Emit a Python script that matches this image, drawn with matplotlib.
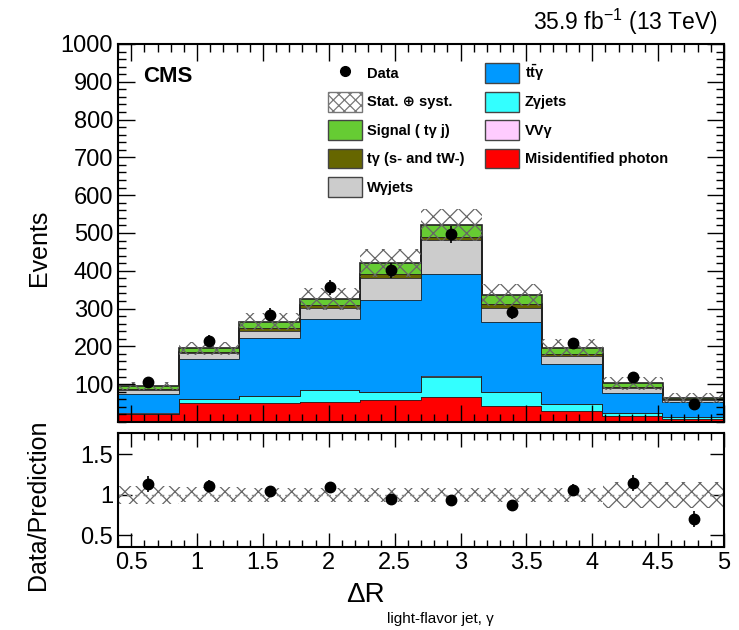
import matplotlib
matplotlib.use('Agg')
import matplotlib.pyplot as plt
import numpy as np
from matplotlib.patches import Patch
from matplotlib.lines import Line2D
from matplotlib.ticker import MultipleLocator, FixedLocator

plt.rcParams['font.family'] = ['Liberation Sans', 'DejaVu Sans']
plt.rcParams['mathtext.fontset'] = 'custom'
plt.rcParams['mathtext.rm'] = 'Liberation Sans'
plt.rcParams['mathtext.bf'] = 'Liberation Sans:bold'
plt.rcParams['mathtext.it'] = 'Liberation Sans:italic'
plt.rcParams['hatch.linewidth'] = 0.9

# bin edges (delta R)
edges = [0.40, 0.86, 1.32, 1.78, 2.24, 2.70, 3.16, 3.62, 4.08, 4.54, 5.00]
centers = [0.63, 1.09, 1.55, 2.01, 2.47, 2.93, 3.39, 3.85, 4.31, 4.77]

# stacked components, bottom to top
misid = [20, 51, 51, 54, 58, 65, 42, 29, 16, 7]
zgjets = [2, 9, 18, 31, 22, 55, 38, 18, 8, 6]
vvg = [0.5, 0.5, 0.5, 0.5, 0.5, 0.5, 0.5, 0.5, 0.5, 0.5]
ttg = [52, 105, 152, 188, 243, 271, 185, 105, 53, 39]
wgjets = [10, 16, 20, 27, 57, 90, 37, 22, 13, 5]
tg = [3, 4, 7, 9, 11, 9, 9, 5, 3, 2]
signal = [7, 9, 17, 16, 28, 31, 24, 17, 9, 5]

data = [106, 215, 284, 356, 401, 496, 290, 209, 118, 47]
data_err = [10, 15, 17, 19, 20, 22, 17, 14, 11, 7]
unc = [10, 17, 22, 28, 37, 43, 30, 23, 17, 13]

ratio = [1.13, 1.11, 1.05, 1.09, 0.95, 0.94, 0.87, 1.06, 1.14, 0.70]
ratio_err = [0.10, 0.07, 0.06, 0.05, 0.05, 0.04, 0.06, 0.07, 0.10, 0.10]
ratio_band = [0.11, 0.09, 0.085, 0.085, 0.085, 0.085, 0.085, 0.085, 0.16, 0.16]

fig = plt.figure(figsize=(7.39, 6.30), dpi=100)
ax = fig.add_axes([0.1597, 0.3302, 0.8200, 0.6000])
rax = fig.add_axes([0.1597, 0.1317, 0.8200, 0.1810])

comps = [
    (misid, '#ff0000'),
    (zgjets, '#33ffff'),
    (vvg, '#ffccff'),
    (ttg, '#0099ff'),
    (wgjets, '#cccccc'),
    (tg, '#666600'),
    (signal, '#66cc33'),
]
base = np.zeros(len(centers))
for vals, col in comps:
    top = base + np.array(vals)
    ax.stairs(top, edges, baseline=base, fill=True, facecolor=col, edgecolor='none')
    ax.stairs(top, edges, baseline=None, color='#222222', lw=1.2)
    base = top
total = base

unc = np.array(unc)
ax.stairs(total + unc, edges, baseline=total - unc, fill=True, facecolor='none',
          edgecolor='#666666', hatch='xx', lw=0)

ax.errorbar(centers, data, yerr=data_err, fmt='o', color='black', ms=7.5, elinewidth=1.2, capsize=0, zorder=5)

ax.set_xlim(0.4, 5.0)
ax.set_ylim(0, 1000)
ax.yaxis.set_major_locator(FixedLocator([100, 200, 300, 400, 500, 600, 700, 800, 900, 1000]))
ax.yaxis.set_minor_locator(MultipleLocator(20))
ax.xaxis.set_major_locator(MultipleLocator(0.5))
ax.xaxis.set_minor_locator(MultipleLocator(0.1))
ax.tick_params(which='both', direction='in', top=True, right=True, labelbottom=False, labelsize=17, width=1)
ax.tick_params(which='major', length=12)
ax.tick_params(which='minor', length=6)
ax.set_ylabel('Events', fontsize=18)
ax.yaxis.set_label_coords(-0.11, 0.46)
for s in ax.spines.values():
    s.set_linewidth(1.5)

ax.text(0.041, 0.913, 'CMS', transform=ax.transAxes, fontsize=16, fontweight='bold', va='center', ha='left')

handles = [
    Line2D([], [], marker='o', color='black', ls='none', ms=7),
    Patch(facecolor='white', edgecolor='#777777', hatch='xxx', lw=1),
    Patch(facecolor='#66cc33', edgecolor='#444444', lw=1),
    Patch(facecolor='#666600', edgecolor='#444444', lw=1),
    Patch(facecolor='#cccccc', edgecolor='#444444', lw=1),
    Patch(facecolor='#0099ff', edgecolor='#444444', lw=1),
    Patch(facecolor='#33ffff', edgecolor='#444444', lw=1),
    Patch(facecolor='#ffccff', edgecolor='#444444', lw=1),
    Patch(facecolor='#ff0000', edgecolor='#444444', lw=1),
]
labels = ['Data', 'Stat. \u2295 syst.', 'Signal ( t\u03b3 j)', 't\u03b3 (s- and tW-)', 'W\u03b3jets',
          r'$\mathbf{t\bar{t}}\mathbf{\gamma}$', 'Z\u03b3jets', 'VV\u03b3', 'Misidentified photon']
leg = ax.legend(handles, labels, ncol=2, loc='upper left', bbox_to_anchor=(0.325, 0.985),
                frameon=False, handlelength=2.3, handleheight=1.7, labelspacing=0.6,
                columnspacing=1.4, handletextpad=0.4, prop={'weight': 'bold', 'size': 10.5})

# ratio panel
ratio_band = np.array(ratio_band)
rax.stairs(1 + ratio_band, edges, baseline=1 - ratio_band, fill=True, facecolor='none',
           edgecolor='#666666', hatch='xx', lw=0)
rax.axhline(1.0, color='#888888', ls=(0, (3, 3)), lw=1)
rax.errorbar(centers, ratio, yerr=ratio_err, fmt='o', color='black', ms=7.5, elinewidth=1.2, capsize=0, zorder=5)
rax.set_xlim(0.4, 5.0)
rax.set_ylim(0.355, 1.76)
rax.yaxis.set_major_locator(FixedLocator([0.5, 1.0, 1.5]))
rax.set_yticklabels(['0.5', '1', '1.5'])
rax.set_xticks([0.5, 1, 1.5, 2, 2.5, 3, 3.5, 4, 4.5, 5])
rax.set_xticklabels(['0.5', '1', '1.5', '2', '2.5', '3', '3.5', '4', '4.5', '5'])
rax.xaxis.set_minor_locator(MultipleLocator(0.1))
rax.tick_params(which='both', direction='in', top=True, right=True, labelsize=17, width=1)
rax.tick_params(which='major', length=10)
rax.tick_params(which='minor', length=5)
rax.set_ylabel('Data/Prediction', fontsize=18)
rax.yaxis.set_label_coords(-0.113, 0.37)
for s in rax.spines.values():
    s.set_linewidth(1.5)

fig.text(0.972, 0.952, '35.9 fb$^{-1}$ (13 TeV)', ha='right', va='baseline', fontsize=16.5)
fig.text(0.494, 0.055, '\u0394R', ha='center', va='center', fontsize=20)
fig.text(0.596, 0.018, 'light-flavor jet, \u03b3', ha='center', va='center', fontsize=11)

fig.savefig('out.png', dpi=100)
